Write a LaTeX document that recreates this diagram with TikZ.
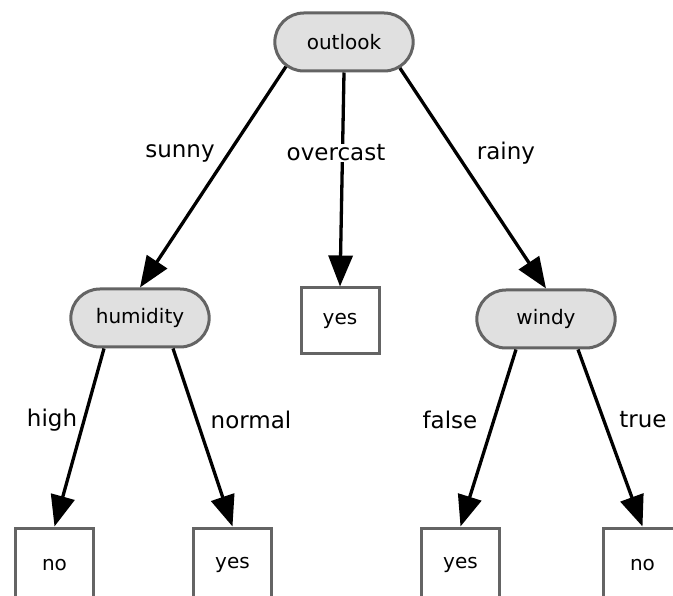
\documentclass[tikz,border=0pt]{standalone}
\usepackage{fontspec}
\setmainfont{DejaVu Sans}
\usepackage{tikz}
\usetikzlibrary{positioning, arrows.meta, shapes.misc}
\definecolor{nodegray}{RGB}{224,224,224}
\definecolor{bordergray}{RGB}{100,100,100}

\begin{document}
\begin{tikzpicture}[x=1pt, y=-1pt,
  attr/.style={rounded rectangle, draw=bordergray, line width=3pt, fill=nodegray,
    minimum width=145pt, minimum height=58pt, font=\fontsize{20}{24}\selectfont},
  leaf/.style={rectangle, draw=bordergray, line width=3pt, fill=white,
    minimum width=78pt, minimum height=66pt, font=\fontsize{20}{24}\selectfont},
  branch/.style={font=\fontsize{23}{27}\selectfont, inner sep=1pt},
  edge/.style={line width=3.3pt, -{Triangle[length=31pt, width=24pt]}}]
\clip (0,0) rectangle (673,596);

% attribute nodes
\node[attr] (outlook) at (344, 42) {outlook};
\node[attr] (humidity) at (140, 318) {humidity};
\node[attr] (windy) at (546, 319) {windy};

% leaves
\node[leaf] (yes1) at (340, 321) {yes};
\node[leaf, minimum height=74pt] (no1) at (54.5, 565) {no};
\node[leaf, minimum height=74pt] (yes2) at (232.5, 565) {yes};
\node[leaf, minimum height=74pt] (yes3) at (460.5, 565) {yes};
\node[leaf, minimum height=74pt] (no2) at (642.5, 565) {no};

% branches from outlook
\draw[edge] (outlook.203) -- (humidity.north);
\draw[edge] (outlook.south) -- (yes1.north);
\draw[edge] (outlook.335) -- (windy.north);
\node[branch] (lsunny) at (180, 153) {sunny};
\node[branch, fill=white] (lovercast) at (336, 153) {overcast};
\node[branch] (lrainy) at (506, 153) {rainy};

% branches from humidity
\draw[edge] ([xshift=-36pt]humidity.south) -- (no1.north);
\draw[edge] ([xshift=33pt]humidity.south) -- (yes2.north);
\node[branch] (lhigh) at (52, 420) {high};
\node[branch] (lnormal) at (251, 420) {normal};

% branches from windy
\draw[edge] ([xshift=-30pt]windy.south) -- (yes3.north);
\draw[edge] ([xshift=32pt]windy.south) -- (no2.north);
\node[branch] (lfalse) at (450, 420) {false};
\node[branch] (ltrue) at (643, 420) {true};
\end{tikzpicture}
\end{document}
